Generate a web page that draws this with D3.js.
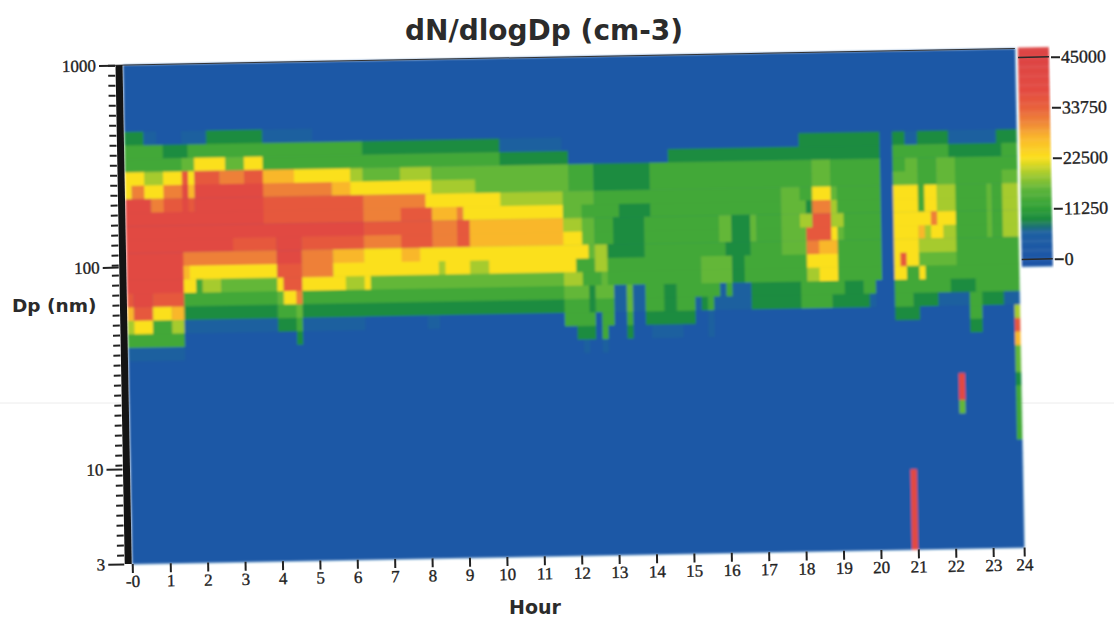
<!DOCTYPE html>
<html>
<head>
<meta charset="utf-8">
<script src="https://cdnjs.cloudflare.com/ajax/libs/d3/7.8.5/d3.min.js"></script>
<style>
    body { margin: 0; background: #fff; }
    svg { display: block; }
    .title-text { font-family: "DejaVu Sans", sans-serif; font-weight: 700; fill: #2b2b2b; }
    .y-axis text, .x-axis text, .bar-axis text { font-family: "Liberation Serif", serif; fill: #222; stroke: #222; stroke-width: 0.35px; }
    .y-axis text, .x-axis text { font-size: 17px; }
    .bar-axis text { font-size: 18px; }
</style>
</head>
<body>
<div id="chart"></div>
<script>
    // particle size bin edges, nm, top of the picture first
    var dpEdges = [1000, 543, 466, 399, 342, 294, 252, 216, 185, 159, 136, 117, 100, 85.7, 73.5,
        63, 54, 46.3, 39.7, 34, 29.2, 25, 21.5, 18.4, 15.8, 13.5, 11.6, 10, 8.3, 3];

    // dN/dlogDp for each colour step
    var levelValues = {
        '0': 1500, '1': 6000, '2': 9000, '3': 13000, '4': 15800, '5': 19000,
        '6': 22500, '7': 27000, '8': 31000, '9': 35000, 'a': 40000
    };

    // one line per size bin, "startColumn:level" runs, 6 columns per hour
    var binRuns = [
        '0:0',
        '0:0',
        '0:2 3:1 5:0 9:1 13:2 22:1 30:0',
        '0:3 6:2 10:3 38:2 60:1 70:0 108:2 121:0 123:2 125:1 127:2 132:1 140:2',
        '0:3 9:4 11:6 16:4 19:6 22:3 60:2 71:0 87:2 121:0 123:3 132:2 141:3',
        '0:6 3:5 6:6 9:9 10:6 11:9 15:8 19:9 22:7 27:6 36:5 38:4 44:5 49:4 71:3 75:2 84:3 110:4 113:3 121:0 123:3 125:4 127:3 130:4 133:3',
        '0:6 1:8 3:6 6:8 9:a 10:7 11:a 22:8 33:7 36:6 49:5 56:4 71:3 75:2 84:3 110:4 113:3 121:0 123:4 127:3 130:4 133:3 141:4',
        '0:a 4:8 6:9 9:a 10:9 11:a 22:9 38:8 48:6 60:5 70:4 75:3 105:4 108:3 110:6 113:4 114:3 121:0 123:6 127:3 128:6 130:5 133:3 138:4 139:3 141:5',
        '0:a 22:9 38:8 44:9 49:7 53:8 54:6 70:4 73:3 79:2 84:3 105:4 109:2 110:8 113:5 114:3 121:0 123:6 127:3 128:6 130:5 133:3 138:4 139:3 141:5',
        '0:a 38:9 49:8 53:9 55:7 70:5 73:4 75:3 78:2 83:3 95:4 97:2 100:4 101:3 105:4 108:5 110:9 113:5 115:3 121:0 123:6 129:8 130:6 133:3 138:4 139:3 141:5',
        '0:a 17:9 24:a 28:9 38:8 44:9 49:8 53:9 55:7 70:6 73:4 75:3 78:2 83:3 95:4 97:2 100:4 101:3 105:4 109:9 113:6 114:4 115:3 121:0 123:6 127:7 128:5 129:6 131:5 133:3 138:4 139:3 141:5',
        '0:a 9:8 24:a 28:8 33:7 38:6 44:7 47:6 74:4 75:5 77:2 83:3 96:2 100:3 105:4 109:8 111:7 114:3 121:0 123:6 127:5 133:3',
        '0:a 9:7 10:6 24:9 28:8 33:6 50:5 51:6 55:5 58:6 72:3 75:5 77:3 92:4 97:2 99:3 109:6 114:3 121:0 123:6 124:9 125:6 127:4 133:3',
        '0:a 9:6 11:3 12:5 15:4 24:6 25:9 28:6 35:5 38:6 39:4 70:5 73:3 76:4 77:3 92:4 97:2 99:3 109:5 111:6 114:3 121:0 123:6 125:3 127:6 128:3',
        '0:9 1:a 4:9 9:3 24:4 25:6 27:8 28:3 70:4 74:2 75:4 78:1 80:4 81:1 83:3 86:2 88:3 95:1 96:3 97:1 100:2 108:3 115:2 118:3 120:0 123:3 132:2 136:3',
        '0:7 1:9 4:6 7:7 9:2 24:3 27:4 28:2 70:3 74:2 75:3 78:1 80:4 81:1 83:3 86:2 88:3 91:1 92:2 93:3 94:1 100:2 108:3 113:2 119:1 120:0 123:3 126:2 130:1 135:3 137:2 141:1',
        '0:5 1:6 4:3 7:5 9:1 24:2 27:3 28:1 38:0 48:1 50:0 70:3 75:0 76:3 78:0 80:3 81:0 83:2 91:0 93:1 94:0 123:2 127:0 135:3 137:0 143:5',
        '0:3 9:0 27:2 28:0 72:2 75:0 76:3 77:0 80:2 81:0 84:1 89:0 93:1 94:0 135:2 137:0 143:9',
        '0:1 9:0 73:1 74:0 76:1 77:0 143:7',
        '0:0 143:4',
        '0:0 143:4',
        '0:0 133:a 134:0 143:2',
        '0:0 133:a 134:0 143:3',
        '0:0 133:4 134:0 143:3',
        '0:0 143:3',
        '0:0 143:3',
        '0:0',
        '0:0',
        '0:0 125:a 126:0'
    ];

    var yTickValues = [1000, 100, 10, 3];
    var xTickValues = d3.range(0, 25);
    var xTickLabels = ['-0', '1', '2', '3', '4', '5', '6', '7', '8', '9', '10', '11', '12', '13', '14',
        '15', '16', '17', '18', '19', '20', '21', '22', '23', '24'];
    var barTickValues = [45000, 33750, 22500, 11250, 0];

    var colorStops = [0, 5900, 8800, 11250, 15400, 19100, 22500, 27200, 30100, 33750, 37500, 45000];
    var colorRamp = ['#1d56a7', '#1f5fa2', '#1c8a40', '#2fa037', '#5cb43a', '#a8cc2f', '#fbe01d',
        '#f9b52c', '#f08a37', '#e8603c', '#e34a41', '#dd4545'];

    var width = 1114, height = 618;
    var plotWidth = 892, plotHeight = 499;
    var tilt = 'translate(123,65) rotate(-1.06)';

    var color = d3.scaleLinear().domain(colorStops).range(colorRamp).clamp(true);
    // the hour axis of the original is not quite even at both ends
    var x = d3.scaleLinear().domain([0, 1, 23, 24]).range([0, 38, 861, plotWidth]);
    var y = d3.scaleLog().domain([1000, 10, 3]).range([0, 404, plotHeight]);
    var barY = d3.scaleLinear().domain([45000, 0]).range([9, 211]);

    var svg = d3.select('#chart').append('svg')
        .attr('width', width)
        .attr('height', height);

    var defs = svg.append('defs');
    defs.append('filter').attr('id', 'scan')
        .attr('x', '-2%').attr('y', '-2%').attr('width', '104%').attr('height', '104%')
        .append('feGaussianBlur').attr('stdDeviation', 0.8);

    // faint fold of the scanned page
    svg.append('line')
        .attr('x1', 0).attr('x2', width).attr('y1', 403).attr('y2', 403)
        .attr('stroke', '#ececec');

    var graph = svg.append('g').attr('transform', tilt);

    var cells = [];
    binRuns.forEach(function(line, row) {
        var runs = line.split(' ').map(function(run) {
            var parts = run.split(':');
            return { start: +parts[0], level: parts[1] };
        });
        runs.forEach(function(run, i) {
            cells.push({
                row: row,
                start: run.start / 6,
                end: (i < runs.length - 1 ? runs[i + 1].start : 144) / 6,
                value: levelValues[run.level]
            });
        });
    });

    var heat = graph.append('g').attr('filter', 'url(#scan)');
    heat.append('rect')
        .attr('width', plotWidth).attr('height', plotHeight)
        .attr('fill', color(levelValues['0']));
    heat.selectAll('rect.cell')
        .data(cells)
        .enter().append('rect')
        .attr('class', 'cell')
        .attr('x', function(d) { return x(d.start); })
        .attr('y', function(d) { return y(dpEdges[d.row]); })
        .attr('width', function(d) { return x(d.end) - x(d.start) + 0.4; })
        .attr('height', function(d) { return y(dpEdges[d.row + 1]) - y(dpEdges[d.row]) + 0.4; })
        .attr('fill', function(d) { return color(d.value); });

    // thin line along the top of the plot
    graph.append('line')
        .attr('x1', -8).attr('x2', plotWidth).attr('y1', 0).attr('y2', 0)
        .attr('stroke', '#333').attr('stroke-width', 1);

    // y axis: black band, minor ticks about every 10 px, labelled ticks
    var minorTicks = d3.range(0, plotHeight, 10).map(function(d) { return y.invert(d); });
    var yMinor = graph.append('g')
        .attr('transform', 'translate(-8,0)')
        .call(d3.axisLeft(y).tickValues(minorTicks).tickSize(7).tickFormat(''));
    yMinor.select('.domain').remove();
    yMinor.selectAll('line').attr('stroke', '#222').attr('stroke-width', 2);

    var yAxis = graph.append('g')
        .attr('class', 'y-axis')
        .attr('transform', 'translate(-8,0)')
        .call(d3.axisLeft(y).tickValues(yTickValues).tickSize(16).tickPadding(3).tickFormat(d3.format('d')));
    yAxis.select('.domain').remove();
    yAxis.selectAll('line').attr('stroke', '#222').attr('stroke-width', 2);

    graph.append('line')
        .attr('x1', -4).attr('x2', -4).attr('y1', 0).attr('y2', plotHeight)
        .attr('stroke', '#141414').attr('stroke-width', 7);

    // x axis
    var xAxis = graph.append('g')
        .attr('class', 'x-axis')
        .attr('transform', 'translate(0,' + plotHeight + ')')
        .call(d3.axisBottom(x).tickValues(xTickValues).tickSize(9).tickPadding(2)
            .tickFormat(function(d, i) { return xTickLabels[i]; }));
    xAxis.select('.domain').remove();
    xAxis.selectAll('line').attr('stroke', '#222').attr('stroke-width', 2);

    // colour bar
    var bar = graph.append('g').attr('transform', 'translate(895,0)');
    var barSteps = d3.range(barY.invert(218), barY.invert(0), 250);
    bar.append('g').attr('filter', 'url(#scan)')
        .selectAll('rect')
        .data(barSteps)
        .enter().append('rect')
        .attr('x', 0)
        .attr('width', 31)
        .attr('y', function(d) { return barY(d + 250); })
        .attr('height', function(d) { return barY(d) - barY(d + 250) + 0.5; })
        .attr('fill', function(d) { return color(d); });

    bar.selectAll('line.limit')
        .data([45000, 0])
        .enter().append('line')
        .attr('class', 'limit')
        .attr('x1', 0).attr('x2', 31)
        .attr('y1', function(d) { return barY(d); })
        .attr('y2', function(d) { return barY(d); })
        .attr('stroke', '#2a2a2a').attr('stroke-width', 1.5);

    var barAxis = bar.append('g')
        .attr('class', 'bar-axis')
        .attr('transform', 'translate(33,0)')
        .call(d3.axisRight(barY).tickValues(barTickValues).tickSize(9).tickPadding(1).tickFormat(d3.format('d')));
    barAxis.select('.domain').remove();
    barAxis.selectAll('line').attr('stroke', '#222').attr('stroke-width', 2);

    // titles
    svg.append('text')
        .attr('class', 'title-text')
        .attr('x', 544).attr('y', 40)
        .attr('text-anchor', 'middle')
        .attr('font-size', 28)
        .text('dN/dlogDp (cm-3)');
    svg.append('text')
        .attr('class', 'title-text')
        .attr('x', 535).attr('y', 614)
        .attr('text-anchor', 'middle')
        .attr('font-size', 19)
        .text('Hour');
    svg.append('text')
        .attr('class', 'title-text')
        .attr('x', 12).attr('y', 312)
        .attr('font-size', 18.5)
        .text('Dp (nm)');
</script>
</body>
</html>
